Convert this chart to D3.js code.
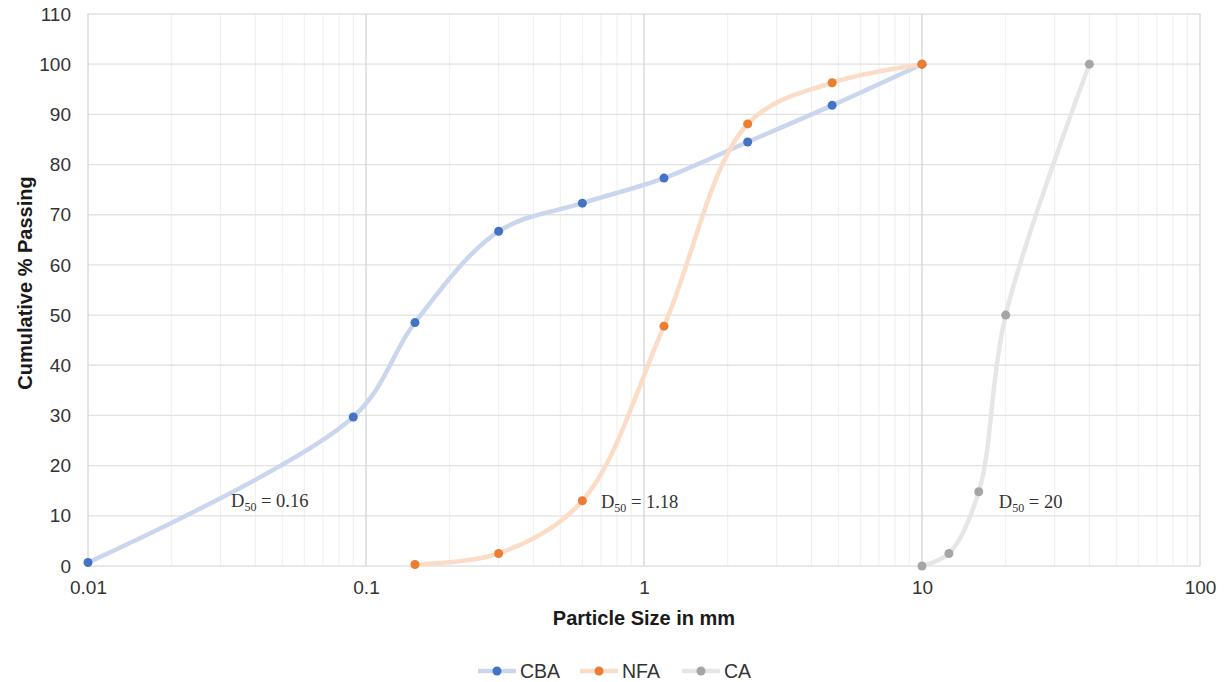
<!DOCTYPE html>
<html>
<head>
<meta charset="utf-8">
<script src="https://cdn.jsdelivr.net/npm/d3@7"></script>
<style>
  body { margin: 0; background: #fff; }
  svg text { font-family: "Liberation Sans", Arial, sans-serif; }
</style>
</head>
<body>
<svg id="svg" width="1228" height="682"></svg>
<script>
// sieve sizes (mm) and cumulative % passing
const cbaSize = [0.01, 0.09, 0.15, 0.3, 0.6, 1.18, 2.36, 4.75, 10];
const cbaPass = [0.7, 29.7, 48.5, 66.7, 72.3, 77.3, 84.5, 91.8, 100];
const nfaSize = [0.15, 0.3, 0.6, 1.18, 2.36, 4.75, 10];
const nfaPass = [0.3, 2.5, 13, 47.8, 88.1, 96.3, 100];
const caSize = [10, 12.5, 16, 20, 40];
const caPass = [0, 2.5, 14.8, 50, 100];
const xTicks = [0.01, 0.1, 1, 10, 100];
const yTicks = [0, 10, 20, 30, 40, 50, 60, 70, 80, 90, 100, 110];
const labels = [
  {x: 0.0327, y: 11.7, sub: "50", val: " = 0.16"},
  {x: 0.70, y: 11.5, sub: "50", val: " = 1.18"},
  {x: 18.9, y: 11.6, sub: "50", val: " = 20"}
];

const series = [
  {name: "CBA", xs: cbaSize, ys: cbaPass, dot: "#4472c4", line: "#c9d6ee"},
  {name: "NFA", xs: nfaSize, ys: nfaPass, dot: "#ed7d31", line: "#fbdcc6"},
  {name: "CA", xs: caSize, ys: caPass, dot: "#a5a5a5", line: "#e6e6e6"}
];

const svg = d3.select("svg#svg");
const m = {left: 88, right: 1200, top: 14, bottom: 566};

const x = d3.scaleLog().domain([0.01, 100]).range([m.left, m.right]);
const y = d3.scaleLinear().domain([0, 110]).range([m.bottom, m.top]);

// minor vertical grid
let minors = [];
for (let d = 0.01; d < 100; d *= 10) {
  for (let k = 2; k <= 9; k++) minors.push(d * k);
}
svg.append("g").selectAll("line").data(minors).enter().append("line")
  .attr("x1", d => x(d)).attr("x2", d => x(d))
  .attr("y1", m.top).attr("y2", m.bottom)
  .attr("stroke", "#eeeeee").attr("stroke-width", 1);

// horizontal grid
svg.append("g").selectAll("line").data(yTicks).enter().append("line")
  .attr("x1", m.left).attr("x2", m.right)
  .attr("y1", d => y(d)).attr("y2", d => y(d))
  .attr("stroke", "#e2e2e2").attr("stroke-width", 1.3);

// major vertical grid
svg.append("g").selectAll("line").data(xTicks).enter().append("line")
  .attr("x1", d => x(d)).attr("x2", d => x(d))
  .attr("y1", m.top).attr("y2", m.bottom)
  .attr("stroke", "#d6d6d6").attr("stroke-width", 1.3);

// axes
const xAxis = d3.axisBottom(x).tickValues(xTicks).tickFormat(d => String(d)).tickSize(0).tickPadding(15);
const gx = svg.append("g").attr("transform", `translate(0,${m.bottom})`).call(xAxis);
gx.select(".domain").remove();
gx.selectAll("text").attr("font-size", 19).attr("fill", "#333")
  .style("font-family", "Liberation Sans, Arial, sans-serif");

const yAxis = d3.axisLeft(y).tickValues(yTicks).tickSize(0).tickPadding(17);
const gy = svg.append("g").attr("transform", `translate(${m.left},0)`).call(yAxis);
gy.select(".domain").remove();
gy.selectAll("text").attr("font-size", 19).attr("fill", "#333")
  .style("font-family", "Liberation Sans, Arial, sans-serif");

// axis titles
svg.append("text").attr("x", 644).attr("y", 625)
  .attr("text-anchor", "middle").attr("font-size", 20).attr("font-weight", "bold")
  .attr("fill", "#1a1a1a").text("Particle Size in mm");
svg.append("text").attr("transform", "translate(32,283) rotate(-90)")
  .attr("text-anchor", "middle").attr("font-size", 20).attr("font-weight", "bold")
  .attr("fill", "#1a1a1a").text("Cumulative % Passing");

// curves
const line = d3.line().curve(d3.curveCatmullRom.alpha(0.5));
series.forEach(s => {
  const pts = s.xs.map((v, i) => [x(v), y(s.ys[i])]);
  svg.append("path").attr("d", line(pts)).attr("fill", "none")
    .attr("stroke", s.line).attr("stroke-width", 4.5).attr("stroke-linecap", "round");
});
series.forEach(s => {
  svg.append("g").selectAll("circle").data(s.xs.map((v, i) => [v, s.ys[i]])).enter()
    .append("circle").attr("cx", d => x(d[0])).attr("cy", d => y(d[1]))
    .attr("r", 4.5).attr("fill", s.dot);
});

// D50 labels
labels.forEach(l => {
  const t = svg.append("text").attr("x", x(l.x)).attr("y", y(l.y))
    .attr("font-size", 18.5).attr("fill", "#333")
    .style("font-family", "Liberation Serif, Times New Roman, serif");
  t.append("tspan").text("D");
  t.append("tspan").attr("font-size", 12).attr("dy", 4).text(l.sub);
  t.append("tspan").attr("dy", -4).text(l.val);
});

// legend
const legend = svg.append("g");
const lx = [478, 580, 682];
series.forEach((s, i) => {
  const g = legend.append("g").attr("transform", `translate(${lx[i]},671)`);
  g.append("line").attr("x1", 0).attr("x2", 38).attr("y1", 0).attr("y2", 0)
    .attr("stroke", s.line).attr("stroke-width", 4.5);
  g.append("circle").attr("cx", 19).attr("cy", 0).attr("r", 4.5).attr("fill", s.dot);
  g.append("text").attr("x", 42).attr("y", 7).attr("font-size", 19.5)
    .attr("fill", "#333").text(s.name);
});
</script>
</body>
</html>
